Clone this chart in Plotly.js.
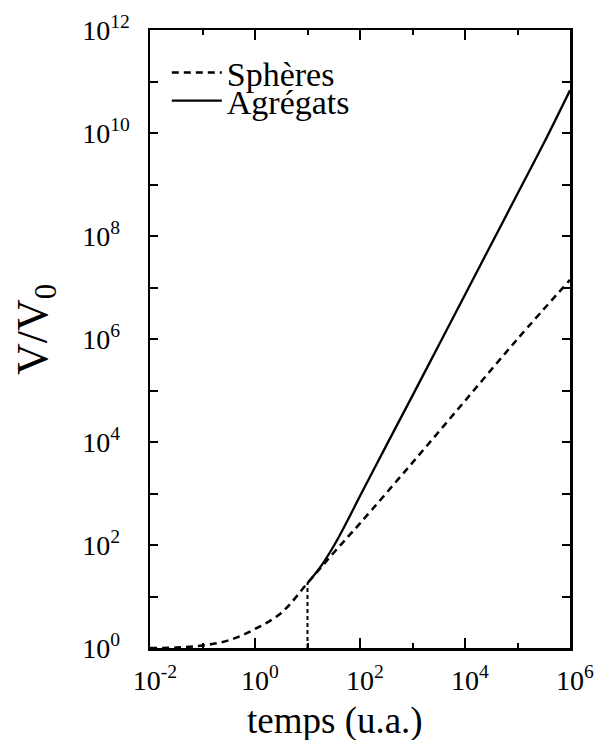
<!DOCTYPE html>
<html>
<head>
<meta charset="utf-8">
<script src="https://cdn.plot.ly/plotly-3.0.1.min.js"></script>
<style>
  html, body { margin: 0; padding: 0; background: #fff; }
  #chart { width: 597px; height: 740px; }
</style>
</head>
<body>
<div id="chart"></div>
<script>
// Data (time in u.a., V/V0)
const spheresT = [0.01, 0.0316, 0.1, 0.316, 1, 3.16, 10, 31.6, 100, 1000, 1e4, 1e5, 1e6];
const spheresV = [1.0, 1.02, 1.12, 1.41, 2.34, 4.8, 18.2, 70.8, 263, 3980, 6.3e4, 1e6, 1.41e7];

const agregatsT = [10, 17.8, 31.6, 56.2, 100, 316, 1000, 3160, 1e4, 3.16e4, 1e5, 3.16e5, 1e6];
const agregatsV = [18.2, 38, 95.5, 282, 891, 8510, 7.94e4, 7.59e5, 7.24e6, 6.92e7, 6.61e8, 6.31e9, 6.76e10];

const markerT = [10, 10];
const markerV = [1, 18.2];

const xTickVals = [0.01, 1, 100, 1e4, 1e6];
const xTickText = ["10<sup>-2</sup>", "10<sup>0</sup>", "10<sup>2</sup>", "10<sup>4</sup>", "10<sup>6</sup>"];
const xMinorVals = [0.1, 10, 1000, 1e5];
const yTickVals = [1, 100, 1e4, 1e6, 1e8, 1e10, 1e12];
const pad = "<span style='color:rgba(0,0,0,0)'>0</span>";
const yTickText = ["10<sup>0" + pad + "</sup>", "10<sup>2" + pad + "</sup>", "10<sup>4" + pad + "</sup>", "10<sup>6" + pad + "</sup>", "10<sup>8" + pad + "</sup>", "10<sup>10</sup>", "10<sup>12</sup>"];
const yMinorVals = [10, 1000, 1e5, 1e7, 1e9, 1e11];

const xTitle = "temps (u.a.)";
const yTitle = "V/V<sub>0</sub>";

const serif = "Liberation Serif, Times New Roman, serif";

const traces = [
  {
    x: spheresT, y: spheresV, name: "Sphères", mode: "lines", legend: "legend",
    line: { color: "#000", width: 2.5, dash: "7px,5px", shape: "spline" }
  },
  {
    x: agregatsT, y: agregatsV, name: "Agrégats", mode: "lines", legend: "legend2",
    line: { color: "#000", width: 2.3, shape: "spline" }
  },
  {
    x: markerT, y: markerV, mode: "lines", showlegend: false, hoverinfo: "skip",
    line: { color: "#000", width: 2, dash: "4px,3px" }
  }
];

const axisCommon = {
  showgrid: false, zeroline: false,
  showline: true, linecolor: "#000", linewidth: 2.5, mirror: "ticks",
  ticks: "inside", tickcolor: "#000", tickwidth: 2,
  tickfont: { family: serif, size: 28, color: "#000" }
};

const legendCommon = {
  xanchor: "left", yanchor: "middle",
  bgcolor: "rgba(0,0,0,0)", borderwidth: 0,
  font: { family: serif, size: 34, color: "#000" },
  itemwidth: 50
};

const layout = {
  width: 597, height: 740,
  margin: { l: 150, r: 27, t: 30, b: 92 },
  paper_bgcolor: "#fff", plot_bgcolor: "#fff",
  showlegend: true,
  legend: Object.assign({}, legendCommon, { x: 0.04, y: 0.9304 }),
  legend2: Object.assign({}, legendCommon, { x: 0.04, y: 0.885 }),
  xaxis: Object.assign({}, axisCommon, {
    type: "log", range: [-2, 6],
    tickmode: "array", tickvals: xTickVals, ticktext: xTickText, ticklen: 10,
    ticklabelstandoff: 6, ticklabelshift: 5,
    minor: { tickmode: "array", tickvals: xMinorVals, ticks: "inside", ticklen: 5, tickcolor: "#000", tickwidth: 2, showgrid: false }
  }),
  yaxis: Object.assign({}, axisCommon, {
    type: "log", range: [0, 12],
    tickmode: "array", tickvals: yTickVals, ticktext: yTickText, ticklen: 8,
    ticklabelstandoff: 12,
    minor: { tickmode: "array", tickvals: yMinorVals, ticks: "inside", ticklen: 8, tickcolor: "#000", tickwidth: 2, showgrid: false }
  }),
  annotations: [
    { text: xTitle, xref: "paper", yref: "paper", x: 0.4405, y: (648 - 721) / 618,
      xanchor: "center", yanchor: "middle", showarrow: false,
      font: { family: serif, size: 37, color: "#000" } },
    { text: yTitle, xref: "paper", yref: "paper", x: (35 - 150) / 420, y: (648 - 329) / 618,
      xanchor: "center", yanchor: "middle", showarrow: false, textangle: -90,
      font: { family: serif, size: 44, color: "#000" } }
  ]
};

Plotly.newPlot("chart", traces, layout, { staticPlot: true, displayModeBar: false });
</script>
</body>
</html>
